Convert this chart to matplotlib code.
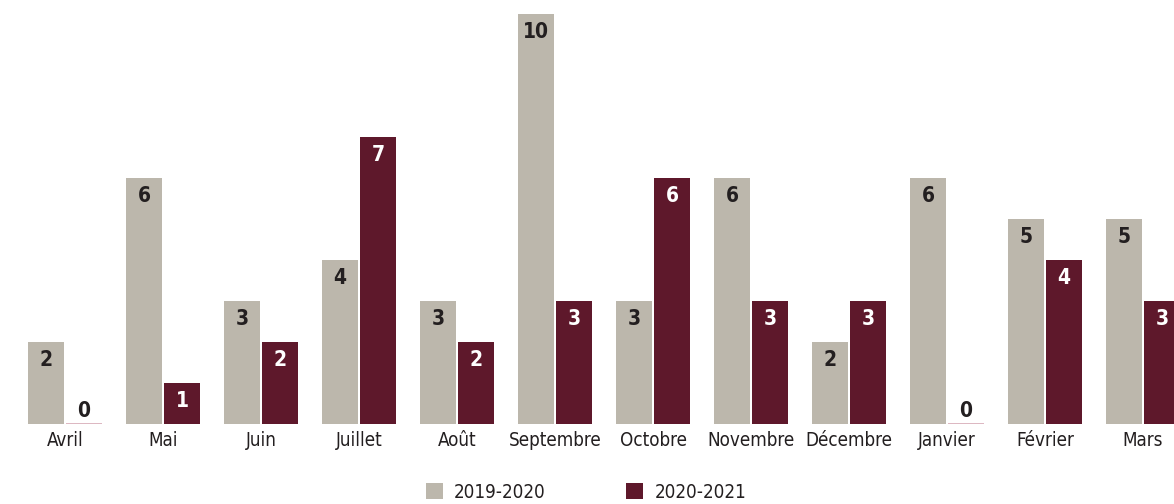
import matplotlib.pyplot as plt
from matplotlib.patches import Patch
import numpy as np

months = ['Avril', 'Mai', 'Juin', 'Juillet', 'Août', 'Septembre', 'Octobre',
          'Novembre', 'Décembre', 'Janvier', 'Février', 'Mars']
s2019 = [2, 6, 3, 4, 3, 10, 3, 6, 2, 6, 5, 5]
s2020 = [0, 1, 2, 7, 2, 3, 6, 3, 3, 0, 4, 3]

gray = '#bcb7ac'
maroon = '#5e182b'
dark = '#231f20'

fig = plt.figure(figsize=(11.74, 5.04), dpi=100)
ax = fig.add_axes([0, 80/504, 1, 410/504])

x = np.arange(len(months))
w = 36/98
off = 19/98
b1 = ax.bar(x - off, s2019, w, color=gray, linewidth=0)
b2 = ax.bar(x + off, s2020, w, color=maroon, linewidth=0)
# zero-height bars show as a thin line on the baseline
for r, v in zip(b2, s2020):
    if v == 0:
        r.set_edgecolor('#d7aab6')
        r.set_linewidth(1.2)

lab = dict(fontsize=15, fontweight='bold', fontstretch='condensed',
           ha='center', va='top')
for xi, v in zip(x - off, s2019):
    ax.annotate(str(v), (xi, v), xytext=(0, -6), textcoords='offset points',
                color=dark, **lab)
for xi, v in zip(x + off, s2020):
    if v == 0:
        ax.annotate(str(v), (xi, v), xytext=(0, 2), textcoords='offset points',
                    color=dark, fontsize=15, fontweight='bold',
                    fontstretch='condensed', ha='center', va='bottom')
    else:
        ax.annotate(str(v), (xi, v), xytext=(0, -6), textcoords='offset points',
                    color='white', **lab)

ax.set_xlim(-65/98, 11.316)
ax.set_ylim(0, 10)
ax.set_xticks(x)
ax.set_xticklabels(months, fontsize=13.5, color=dark, fontstretch='condensed')
ax.tick_params(axis='x', length=0, pad=5)
ax.set_yticks([])
for s in ax.spines.values():
    s.set_visible(False)

handles = [Patch(facecolor=gray, label='2019-2020'),
           Patch(facecolor=maroon, label='2020-2021')]
fig.legend(handles=handles, loc='center', bbox_to_anchor=(586/1174, 12/504),
           ncol=2, frameon=False, fontsize=13.5, handlelength=0.9,
           handleheight=0.9, columnspacing=4.3, handletextpad=0.6,
           labelcolor=dark, prop={'size': 13.5, 'stretch': 'condensed'})

fig.savefig('out.png', dpi=100)
